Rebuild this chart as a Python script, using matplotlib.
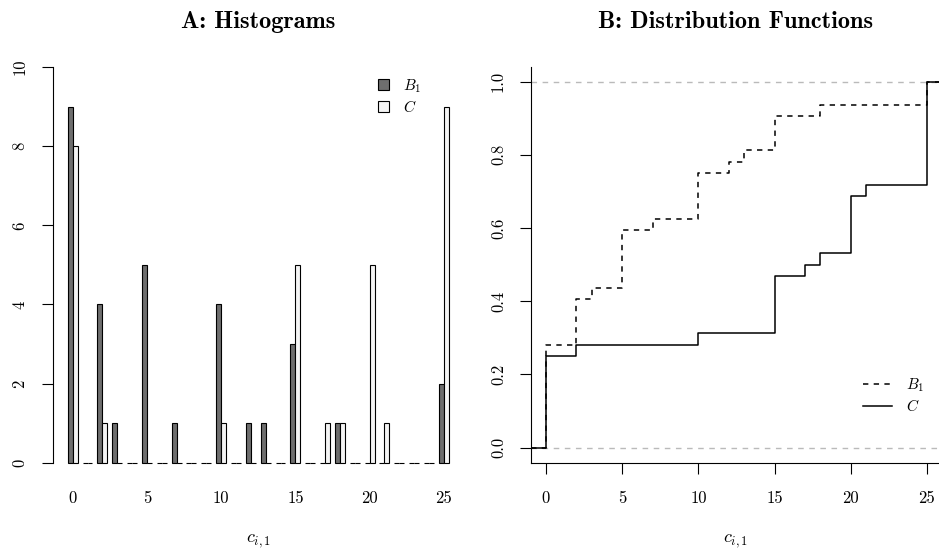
import numpy as np
import matplotlib
matplotlib.use("Agg")
import matplotlib.pyplot as plt
from matplotlib.lines import Line2D
from matplotlib.patches import Patch

# values of c_{i,1}
values = np.arange(26)
# counts per value
counts_b1 = [9, 0, 4, 1, 0, 5, 0, 1, 0, 0, 4, 0, 1, 1, 0, 3, 0, 0, 1, 0, 0, 0, 0, 0, 0, 2]
counts_c = [8, 0, 1, 0, 0, 0, 0, 0, 0, 0, 1, 0, 0, 0, 0, 5, 0, 1, 1, 0, 5, 1, 0, 0, 0, 9]
xtick_values = [0, 5, 10, 15, 20, 25]

plt.rcParams['mathtext.fontset'] = 'cm'
plt.rcParams['font.family'] = 'cmr10'
plt.rcParams['axes.formatter.use_mathtext'] = True
plt.rcParams['axes.unicode_minus'] = False

W, H = 939, 555
fig = plt.figure(figsize=(W / 100, H / 100), dpi=100)

tick_fs = 12
title_font = dict(family='cmb10', size=17.5)
dark, light = '#6e6e6e', '#f4f4f4'

# ---------------- A: Histograms ----------------
ax1 = fig.add_axes([52.5 / W, (H - 462.7) / H, 411.5 / W, 395.7 / H])
grp = 1 + 3 * values  # left edge of each group (R barplot, space=c(0,1))
ax1.bar(grp + 0.5, counts_b1, width=1, color=dark, edgecolor='black',
        linewidth=0.8, clip_on=False)
ax1.bar(grp + 1.5, counts_c, width=1, color=light, edgecolor='black',
        linewidth=0.8, clip_on=False)
ax1.set_xlim(-2.08, 81.08)
ax1.set_ylim(0, 10)
for s in ['top', 'right', 'bottom']:
    ax1.spines[s].set_visible(False)
ax1.spines['left'].set_bounds(0, 10)
ax1.spines['left'].set_linewidth(0.8)
ax1.set_yticks([0, 2, 4, 6, 8, 10])
ax1.set_yticklabels(['0', '2', '4', '6', '8', '10'], rotation=90, va='center')
ax1.set_xticks([2 + 3 * v for v in xtick_values])
ax1.set_xticklabels([str(v) for v in xtick_values])
ax1.tick_params(axis='x', length=0, pad=20, labelsize=tick_fs)
ax1.tick_params(axis='y', length=8, width=0.8, pad=10, labelsize=tick_fs)
ax1.set_xlabel('$c_{i,1}$', fontsize=13, va='center')
ax1.xaxis.set_label_coords(0.5, (462.7 - 541) / 395.7)
fig.text(258 / W, 1 - 22 / H, 'A: Histograms', fontdict=title_font, ha='center', va='center')
ax1.legend(handles=[Patch(facecolor=dark, edgecolor='black', linewidth=0.8, label='$B_1$'),
                    Patch(facecolor=light, edgecolor='black', linewidth=0.8, label='$C$')],
           loc='upper left', bbox_to_anchor=((378 - 52.5) / 411.5, (462.7 - 77) / 395.7),
           frameon=False, fontsize=11, handlelength=0.75, handleheight=0.75,
           handletextpad=0.9, borderpad=0, borderaxespad=0, labelspacing=0.3)

# ---------------- B: Distribution Functions ----------------
xl, xr = -0.984, 25.79
ax2 = fig.add_axes([531 / W, (H - 462.7) / H, (W - 531) / W, 395.7 / H])
knots = values
cdf_b1 = np.cumsum(counts_b1) / np.sum(counts_b1)
cdf_c = np.cumsum(counts_c) / np.sum(counts_c)
ax2.axhline(0, color='#bababa', linestyle=(0, (4, 4)), linewidth=1.0)
ax2.axhline(1, color='#bababa', linestyle=(0, (4, 4)), linewidth=1.0)
ax2.step(np.r_[xl, knots, xr], np.r_[0, cdf_b1, 1], where='post', color='black',
         linestyle=(0, (3.5, 3.5)), linewidth=1.1)
ax2.step(np.r_[xl, knots, xr], np.r_[0, cdf_c, 1], where='post', color='black',
         linewidth=1.1)
ax2.set_xlim(xl, xr)
ax2.set_ylim(-0.041, 1.04)
for s in ['top', 'right']:
    ax2.spines[s].set_visible(False)
ax2.spines['left'].set_linewidth(0.8)
ax2.spines['bottom'].set_linewidth(0.8)
ax2.set_xticks(xtick_values)
ax2.set_xticklabels([str(v) for v in xtick_values])
ax2.set_yticks([0, 0.2, 0.4, 0.6, 0.8, 1.0])
ax2.set_yticklabels(['0.0', '0.2', '0.4', '0.6', '0.8', '1.0'], rotation=90, va='center')
ax2.tick_params(axis='x', length=8, width=0.8, pad=12, labelsize=tick_fs)
ax2.tick_params(axis='y', length=8, width=0.8, pad=10, labelsize=tick_fs)
ax2.set_xlabel('$c_{i,1}$', fontsize=13, va='center')
ax2.xaxis.set_label_coords((736 - 531) / (W - 531), (462.7 - 541) / 395.7)
fig.text(736 / W, 1 - 22 / H, 'B: Distribution Functions', fontdict=title_font, ha='center', va='center')
ax2.legend(handles=[Line2D([], [], color='black', linestyle=(0, (3.5, 3.5)), linewidth=1.1, label='$B_1$'),
                    Line2D([], [], color='black', linewidth=1.1, label='$C$')],
           loc='upper left', bbox_to_anchor=((863 - 531) / (W - 531), (462.7 - 376) / 395.7),
           frameon=False, fontsize=11, handlelength=1.9, handletextpad=0.9,
           borderpad=0, borderaxespad=0, labelspacing=0.3)

fig.savefig('out.png', dpi=100)
